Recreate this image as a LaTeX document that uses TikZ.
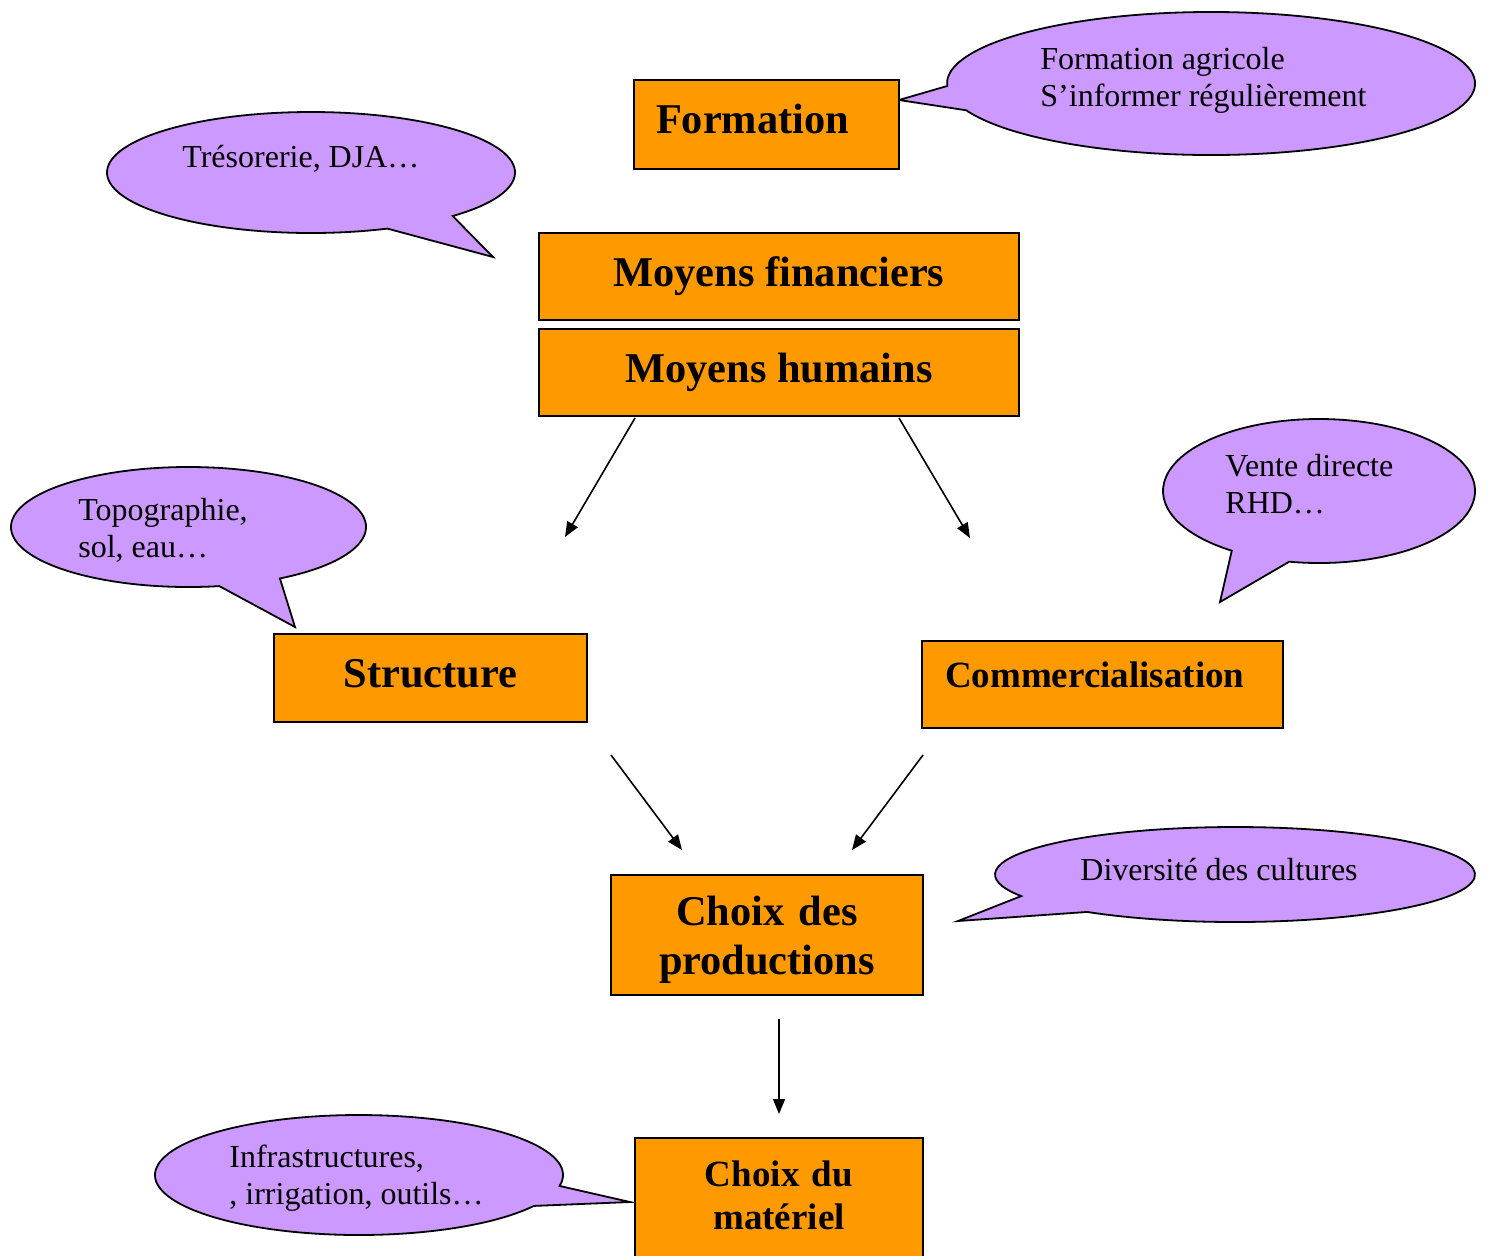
\documentclass[tikz,border=0pt]{standalone}
\usepackage{fontspec}
\setmainfont{Liberation Serif}
\usetikzlibrary{arrows.meta}
\definecolor{orangeboite}{HTML}{FF9900}
\definecolor{violetbulle}{HTML}{CC99FF}
\begin{document}
\begin{tikzpicture}[x=0.5pt,y=-0.5pt,
  boite/.style={draw=black, line width=1pt, fill=orangeboite, inner sep=0pt, font=\fontsize{21.2}{24.5}\selectfont\bfseries},
  bulle/.style={draw=black, line width=0.9pt, fill=violetbulle},
  texte/.style={anchor=base west, inner sep=0pt, align=left, font=\fontsize{16}{18.4}\selectfont},
  fleche/.style={-{Triangle[length=7.5pt,width=6pt]}, line width=0.8pt}]
\useasboundingbox (0,0) rectangle (1488,1255);
\clip (0,0) rectangle (1488,1255);
\filldraw[bulle] (1211,83.5) ++(158:264 and 71.5) arc[start angle=158, end angle=-182, x radius=264, y radius=71.5] -- (899,100) -- cycle;
\filldraw[bulle] (311,172.5) ++(46:204 and 60.5) arc[start angle=46, end angle=-292, x radius=204, y radius=60.5] -- (493,257) -- cycle;
\filldraw[bulle] (188.5,527) ++(59:177.5 and 60) arc[start angle=59, end angle=-280, x radius=177.5, y radius=60] -- (295,627) -- cycle;
\filldraw[bulle] (1319,491) ++(101:156 and 72) arc[start angle=101, end angle=-236, x radius=156, y radius=72] -- (1220,602) -- cycle;
\filldraw[bulle] (1235,874.5) ++(128:240 and 47.5) arc[start angle=128, end angle=-207, x radius=240, y radius=47.5] -- (958,921) -- cycle;
\filldraw[bulle] (359,1175) ++(10.5:204 and 60) arc[start angle=10.5, end angle=-329, x radius=204, y radius=60] -- (630,1202) -- cycle;
\node[texte] (tform) at (1040,106) {Formation agricole\\S’informer régulièrement};
\node[texte] (ttres) at (182,167) {Trésorerie, DJA…};
\node[texte] (ttopo) at (78,557) {Topographie,\\sol, eau…};
\node[texte] (tvente) at (1225,513) {Vente directe\\RHD…};
\node[texte] (tdiv) at (1080,880) {Diversité des cultures};
\node[texte] (tinfra) at (229,1204) {Infrastructures,\\, irrigation, outils…};
\node[boite, minimum width=132.5pt, minimum height=44.5pt, text width=110.5pt, align=left, text depth=6pt] (form) at (766.5,124.5) {Formation};
\node[boite, minimum width=240pt, minimum height=43.5pt] (fin) at (779,276.5) {Moyens financiers};
\node[boite, minimum width=240pt, minimum height=43.5pt] (hum) at (779,372.5) {Moyens humains};
\node[boite, minimum width=156.5pt, minimum height=44pt, text depth=4.4pt] (struct) at (430.5,678) {Structure};
\node[boite, font=\fontsize{18.5}{22}\selectfont\bfseries, minimum width=180.5pt, minimum height=43.5pt, text width=157.5pt, align=left, text depth=10pt] (comm) at (1102.5,684.5) {Commercialisation};
\node[boite, minimum height=60pt, text width=156pt, align=center, text depth=24pt] (prod) at (767,935) {Choix des\\productions};
\node[boite, font=\fontsize{18.5}{21.5}\selectfont\bfseries, minimum height=76pt, text width=144pt, align=center, text depth=40.6pt] (mat) at (779,1214) {Choix du\\matériel};
\coordinate (dep1) at (635,418);
\coordinate (arr1) at (565,537);
\coordinate (dep2) at (899,418);
\coordinate (arr2) at (970,538);
\coordinate (dep3) at (611,755);
\coordinate (arr3) at (682,850);
\coordinate (dep4) at (923,755);
\coordinate (arr4) at (852,850);
\coordinate (dep5) at (779,1019);
\coordinate (arr5) at (779,1114);
\draw[fleche] (dep1) -- (arr1);
\draw[fleche] (dep2) -- (arr2);
\draw[fleche] (dep3) -- (arr3);
\draw[fleche] (dep4) -- (arr4);
\draw[fleche] (dep5) -- (arr5);
\end{tikzpicture}
\end{document}
